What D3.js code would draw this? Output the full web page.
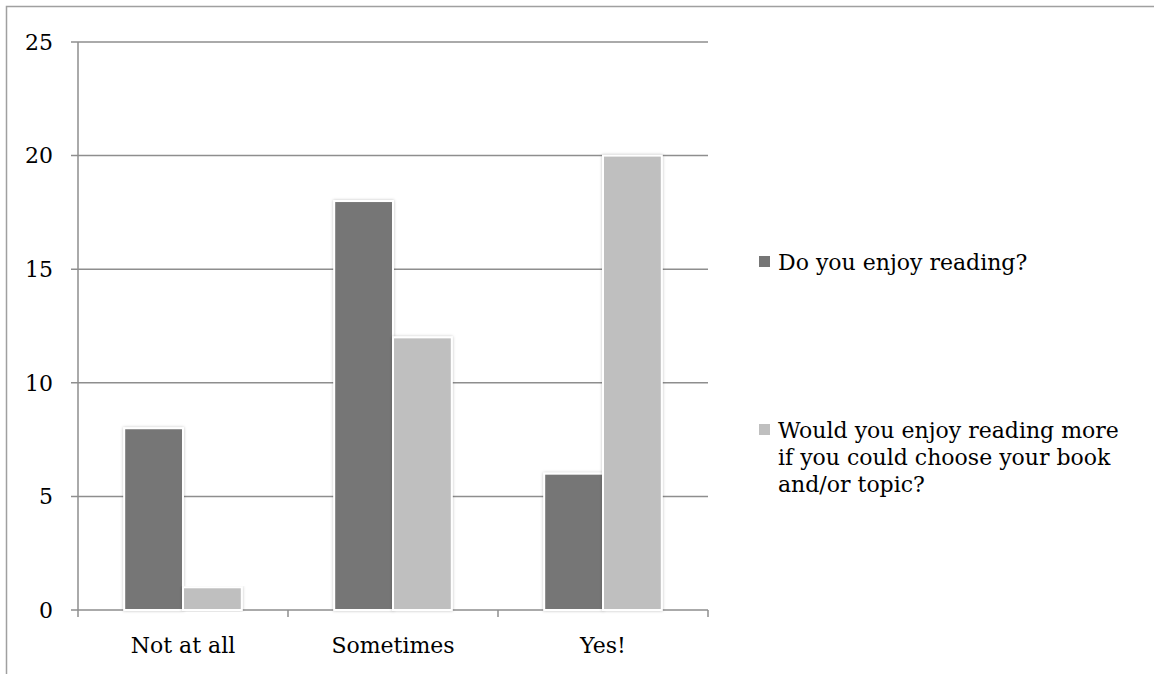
<!DOCTYPE html>
<html>
<head>
<meta charset="utf-8">
<script src="https://cdn.jsdelivr.net/npm/d3@7"></script>
<style>
  body { margin: 0; background: #fff; }
  svg { display: block; }
  text { font-family: "DejaVu Serif", serif; fill: #000; }
</style>
</head>
<body>
<script>
const categories = ["Not at all", "Sometimes", "Yes!"];
const seriesNames = ["Do you enjoy reading?", "Would you enjoy reading more if you could choose your book and/or topic?"];
const enjoyReading = [8, 18, 6];
const enjoyIfChoose = [1, 12, 20];
const yTicks = [0, 5, 10, 15, 20, 25];
const colors = ["#767676", "#bfbfbf"];

const width = 1154, height = 674;
const margin = {left: 78, top: 42, right: 446, bottom: 64};

const svg = d3.select("body").append("svg")
  .attr("width", width)
  .attr("height", height);

const defs = svg.append("defs");
const shadow = defs.append("filter").attr("id", "shadow")
  .attr("x", "-20%").attr("y", "-5%").attr("width", "140%").attr("height", "110%");
shadow.append("feDropShadow")
  .attr("dx", 0).attr("dy", 0).attr("stdDeviation", 1.5)
  .attr("flood-color", "#000").attr("flood-opacity", 0.25);

// outer frame (cut off at right and bottom)
svg.append("rect")
  .attr("x", 6.5).attr("y", 6.5)
  .attr("width", 1160).attr("height", 700)
  .attr("fill", "none").attr("stroke", "#a0a0a0").attr("stroke-width", 1.5);

const x0 = d3.scaleBand()
  .domain(categories)
  .range([margin.left, width - margin.right]);

const x1 = d3.scaleBand()
  .domain([0, 1])
  .range([0, x0.bandwidth() * 0.56]);

const y = d3.scaleLinear()
  .domain([0, 25])
  .range([height - margin.bottom, margin.top]);

// gridlines
svg.append("g")
  .selectAll("line")
  .data(yTicks)
  .join("line")
  .attr("x1", margin.left - 7)
  .attr("x2", width - margin.right)
  .attr("y1", d => y(d))
  .attr("y2", d => y(d))
  .attr("stroke", "#8e8e8e")
  .attr("stroke-width", 1.5);

// y axis line
svg.append("line")
  .attr("x1", margin.left).attr("x2", margin.left)
  .attr("y1", y(25)).attr("y2", y(0) + 7)
  .attr("stroke", "#8e8e8e").attr("stroke-width", 1.5);

// category tick marks
const xEdges = categories.map(c => x0(c) + x0.bandwidth());
svg.append("g")
  .selectAll("line")
  .data(xEdges)
  .join("line")
  .attr("x1", d => d).attr("x2", d => d)
  .attr("y1", y(0)).attr("y2", y(0) + 7)
  .attr("stroke", "#8e8e8e").attr("stroke-width", 1.5);

// y tick labels
svg.append("g")
  .selectAll("text")
  .data(yTicks)
  .join("text")
  .attr("x", 53)
  .attr("y", d => y(d))
  .attr("dy", "0.35em")
  .attr("text-anchor", "end")
  .attr("font-size", 22)
  .text(d => d);

// bars
const series = [enjoyReading, enjoyIfChoose];
const groupW = x0.bandwidth() * 0.56;
series.forEach((vals, si) => {
  svg.append("g")
    .selectAll("rect")
    .data(vals)
    .join("rect")
    .attr("x", (d, i) => x0(categories[i]) + (x0.bandwidth() - groupW) / 2 + x1(si))
    .attr("y", d => y(d))
    .attr("width", x1.bandwidth())
    .attr("height", d => y(0) - y(d))
    .attr("fill", colors[si])
    .attr("stroke", "#fff")
    .attr("stroke-width", 2)
    .attr("filter", "url(#shadow)");
});

// category labels
svg.append("g")
  .selectAll("text")
  .data(categories)
  .join("text")
  .attr("x", d => x0(d) + x0.bandwidth() / 2)
  .attr("y", 645)
  .attr("dy", "0.35em")
  .attr("text-anchor", "middle")
  .attr("font-size", 22)
  .text(d => d);

// legend
const legendLines = [
  ["Do you enjoy reading?"],
  ["Would you enjoy reading more", "if you could choose your book", "and/or topic?"]
];
const legendY = [262, 430];
legendLines.forEach((lines, i) => {
  const g = svg.append("g");
  g.append("rect")
    .attr("x", 759).attr("y", legendY[i] - 6)
    .attr("width", 11).attr("height", 11)
    .attr("fill", colors[i]);
  g.selectAll("text")
    .data(lines)
    .join("text")
    .attr("x", 778)
    .attr("y", (d, j) => legendY[i] + j * 27)
    .attr("dy", "0.35em")
    .attr("font-size", 22)
    .text(d => d);
});
</script>
</body>
</html>
